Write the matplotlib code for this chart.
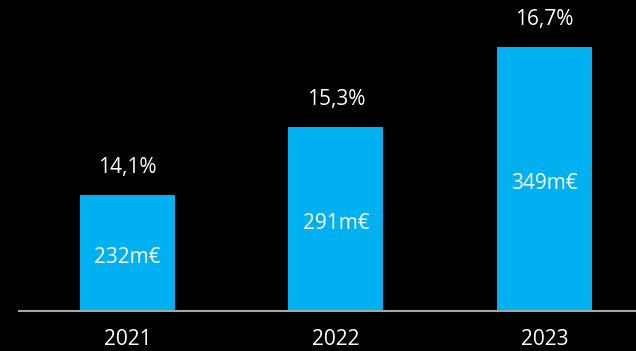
import matplotlib
matplotlib.use("Agg")
import matplotlib.pyplot as plt

years = ["2021", "2022", "2023"]
margins = [14.1, 15.3, 16.7]
margin_labels = ["14,1%", "15,3%", "16,7%"]
values_label = ["232m€", "291m€", "349m€"]

plt.rcParams['font.family'] = ['Open Sans', 'DejaVu Sans']

W, H = 636, 351
fig = plt.figure(figsize=(W / 100, H / 100), dpi=100, facecolor='black')
base_px = 311
ax = fig.add_axes([19 / W, (H - base_px) / H, 1 - 19 / W, base_px / H])
ax.set_facecolor('black')

scale = 56.92  # px per pct point
y0 = 12.06
ax.set_ylim(y0, y0 + base_px / scale)
ax.set_xlim(-0.52, 2.44)

x = list(range(len(years)))
bars = ax.bar(x, [m - y0 for m in margins], bottom=y0, width=0.456, color='#00B0F0')

for xi, m, ml, vl in zip(x, margins, margin_labels, values_label):
    ax.text(xi, m + 27 / scale, ml, ha='center', va='center', color='white', fontsize=15)
    ax.text(xi, (m + y0) / 2 - 5 / scale, vl, ha='center', va='center', color='white', fontsize=15)

for s in ['top', 'right', 'left']:
    ax.spines[s].set_visible(False)
ax.spines['bottom'].set_color('#A6A6A6')
ax.spines['bottom'].set_linewidth(1.5)
ax.set_yticks([])
ax.set_xticks(x)
ax.set_xticklabels(years, color='white', fontsize=15)
ax.tick_params(axis='x', length=0, pad=13)

fig.savefig('out.png', dpi=100, facecolor='black')
